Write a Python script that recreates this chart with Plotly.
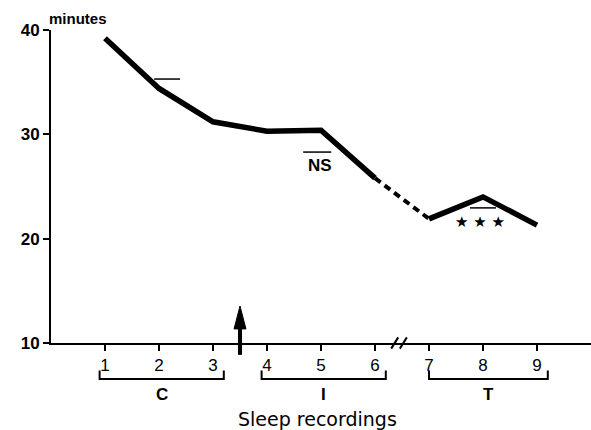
import plotly.graph_objects as go

# Data
recordings = [1, 2, 3, 4, 5, 6, 7, 8, 9]
minutes = [39.2, 34.4, 31.2, 30.3, 30.4, 25.8, 21.9, 24.0, 21.3]
y_ticks = [10, 20, 30, 40]
x_ticks = [1, 2, 3, 4, 5, 6, 7, 8, 9]
groups = ["C", "I", "T"]
group_spans = [(0.9, 3.2), (3.9, 6.2), (7.0, 9.2)]

FONT = "Arial, Liberation Sans, sans-serif"

fig = go.Figure()

# solid segment 1-6
fig.add_trace(go.Scatter(x=recordings[:6], y=minutes[:6], mode="lines",
                         line=dict(color="black", width=5.5), showlegend=False))
# dashed segment 6-7
fig.add_trace(go.Scatter(x=recordings[5:7], y=minutes[5:7], mode="lines",
                         line=dict(color="black", width=4, dash="7px,5px"), showlegend=False))
# solid segment 7-9
fig.add_trace(go.Scatter(x=recordings[6:], y=minutes[6:], mode="lines",
                         line=dict(color="black", width=5.5), showlegend=False))

shapes = []
annotations = []

# overbars
shapes.append(dict(type="line", xref="x", yref="y", x0=1.91, x1=2.39, y0=35.3, y1=35.3,
                   line=dict(color="black", width=1.5)))
shapes.append(dict(type="line", xref="x", yref="y", x0=4.67, x1=5.19, y0=28.3, y1=28.3,
                   line=dict(color="black", width=1.5)))
shapes.append(dict(type="line", xref="x", yref="y", x0=7.76, x1=8.24, y0=22.95, y1=22.95,
                   line=dict(color="black", width=1.5)))

annotations.append(dict(x=4.98, y=27.0, xref="x", yref="y", text="<b>NS</b>", showarrow=False,
                        font=dict(family=FONT, size=17, color="black")))
annotations.append(dict(x=7.94, y=21.6, xref="x", yref="y", text="★ ★ ★", showarrow=False,
                        font=dict(family="DejaVu Sans", size=15, color="black")))

# group brackets
for (a, b), g in zip(group_spans, groups):
    shapes.append(dict(type="path", xref="x", yref="paper",
                       path=f"M {a},-0.088 L {a},-0.115 L {b},-0.115 L {b},-0.088",
                       line=dict(color="black", width=2)))
    annotations.append(dict(x=(a + b) / 2, y=-0.165, xref="x", yref="paper", text=f"<b>{g}</b>",
                            showarrow=False, yanchor="middle",
                            font=dict(family=FONT, size=17, color="black")))

# axis break
for x0 in (6.30, 6.46):
    shapes.append(dict(type="line", xref="x", yref="paper", x0=x0, x1=x0 + 0.13, y0=-0.018, y1=0.018,
                       line=dict(color="black", width=2)))

# intervention arrow
shapes.append(dict(type="line", xref="x", yref="paper", x0=3.5, x1=3.5, y0=-0.038, y1=0.06,
                   line=dict(color="black", width=4)))
shapes.append(dict(type="path", xref="x", yref="paper",
                   path="M 3.39,0.045 L 3.61,0.045 L 3.5,0.118 Z",
                   fillcolor="black", line=dict(color="black", width=1)))

# minutes label
annotations.append(dict(x=0.0, y=1.0, xref="paper", yref="paper", text="<b>minutes</b>", showarrow=False,
                        xanchor="left", yanchor="bottom", yshift=1, xshift=-4,
                        font=dict(family=FONT, size=15, color="black")))

# x title
annotations.append(dict(x=4.94, y=-0.243, xref="x", yref="paper", text="Sleep recordings",
                        showarrow=False, yanchor="middle",
                        font=dict(family="DejaVu Sans", size=19, color="black")))

fig.update_layout(
    width=591, height=430,
    margin=dict(l=51, r=0, t=30, b=87),
    paper_bgcolor="white", plot_bgcolor="white",
    shapes=shapes, annotations=annotations,
    xaxis=dict(range=[0, 10], tickvals=x_ticks, ticktext=[str(v) for v in x_ticks],
               showgrid=False, zeroline=False, showline=True, linecolor="black", linewidth=2,
               ticks="outside", ticklen=6, tickwidth=1.5, tickcolor="black",
               tickfont=dict(family=FONT, size=17, color="black")),
    yaxis=dict(range=[10, 40], tickvals=y_ticks, ticktext=[f"<b>{v}</b>" for v in y_ticks],
               showgrid=False, zeroline=False, showline=True, linecolor="black", linewidth=2,
               ticks="outside", ticklen=6, tickwidth=1.5, tickcolor="black",
               tickfont=dict(family=FONT, size=17, color="black")),
)

fig.write_html("out.html")
